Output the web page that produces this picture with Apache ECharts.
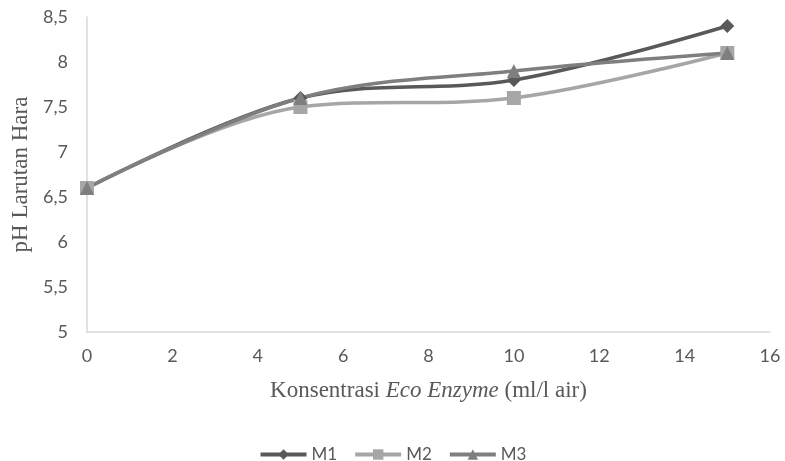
<!DOCTYPE html>
<html><head><meta charset="utf-8">
<script src="https://cdn.jsdelivr.net/npm/echarts@6/dist/echarts.min.js"></script>
<style>html,body{margin:0;padding:0;background:#fff}#c{width:785px;height:461px}</style>
</head><body><div id="c"></div>
<script>
const xValues = [0, 5, 10, 15];
const m1 = [6.6, 7.6, 7.8, 8.4];
const m2 = [6.6, 7.5, 7.6, 8.1];
const m3 = [6.6, 7.6, 7.9, 8.1];
const seriesNames = ['M1', 'M2', 'M3'];

const pair = arr => xValues.map((x, i) => [x, arr[i]]);
const fmt = v => String(v).replace('.', ',');
const chart = echarts.init(document.getElementById('c'));
const tickFont = {color: '#595959', fontSize: 18, fontFamily: 'Lato, "Open Sans", sans-serif'};
const serif = '"Liberation Serif", serif';
const mk = (name, data, color, symbol, size) => ({
  name, type: 'line', data: pair(data), smooth: 0.35,
  symbol, symbolSize: size,
  lineStyle: {color, width: 3.5}, itemStyle: {color},
  emphasis: {disabled: true}
});
chart.setOption({
  animation: false,
  grid: {left: 87, right: 15, top: 17, bottom: 129},
  xAxis: {
    type: 'value', min: 0, max: 16, interval: 2,
    axisLine: {show: true, lineStyle: {color: '#d9d9d9', width: 1.5}},
    axisTick: {show: false}, splitLine: {show: false},
    axisLabel: Object.assign({margin: 15}, tickFont),
    name: '{n|Konsentrasi }{i|Eco Enzyme}{n| (ml/l air)}',
    nameLocation: 'middle', nameGap: 47,
    nameTextStyle: {rich: {
      n: {fontFamily: serif, fontSize: 23, color: '#595959'},
      i: {fontFamily: serif, fontSize: 23, color: '#595959', fontStyle: 'italic'}
    }}
  },
  yAxis: {
    type: 'value', min: 5, max: 8.5, interval: 0.5,
    axisLine: {show: true, lineStyle: {color: '#d9d9d9', width: 1.5}},
    axisTick: {show: false}, splitLine: {show: false},
    axisLabel: Object.assign({margin: 19, formatter: fmt}, tickFont),
    name: 'pH Larutan Hara', nameLocation: 'middle', nameGap: 52,
    nameTextStyle: {fontFamily: serif, fontSize: 23, color: '#595959'}
  },
  legend: {
    top: 441, left: 'center', itemWidth: 46, itemHeight: 13, itemGap: 16,
    textStyle: Object.assign({}, tickFont, {fontSize: 17}),
    lineStyle: {width: 4},
    data: seriesNames
  },
  series: [
    mk('M1', m1, '#595959', 'diamond', 14),
    mk('M2', m2, '#a6a6a6', 'rect', 14),
    mk('M3', m3, '#7f7f7f', 'triangle', 14)
  ]
});
</script></body></html>
